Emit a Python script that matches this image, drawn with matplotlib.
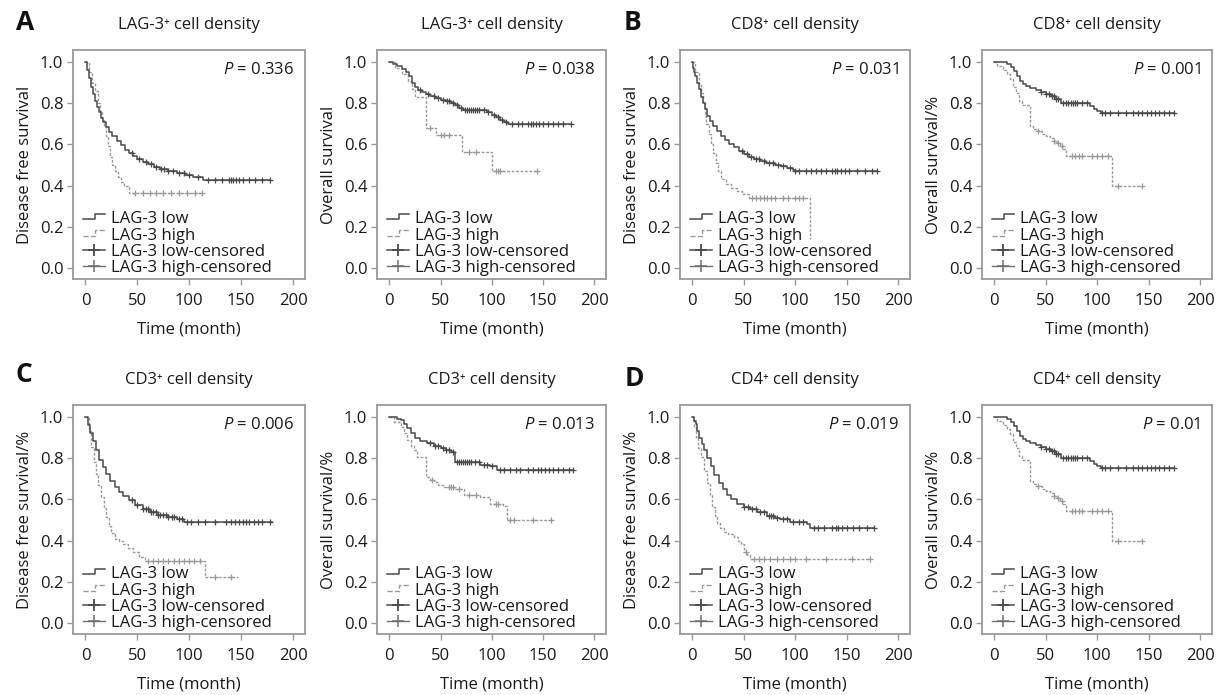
import numpy as np
import matplotlib
matplotlib.use("Agg")
import matplotlib.pyplot as plt
from matplotlib.legend_handler import HandlerBase
from matplotlib.lines import Line2D

plt.rcParams['font.family'] = ['Open Sans', 'DejaVu Sans']
plt.rcParams['mathtext.fontset'] = 'custom'
plt.rcParams['mathtext.it'] = 'Open Sans:italic'
plt.rcParams['mathtext.rm'] = 'Open Sans'

# ---------------- data ----------------
legend_labels = ["LAG-3 low", "LAG-3 high", "LAG-3 low-censored", "LAG-3 high-censored"]
x_ticks = [0, 50, 100, 150, 200]
y_ticks = [0.0, 0.2, 0.4, 0.6, 0.8, 1.0]

# Panel A, DFS (LAG-3+ density)
a_dfs_low_t = [0, 1.5, 3, 5, 7, 9, 11, 13, 15, 17, 20, 23, 26, 30, 34, 38, 42, 46, 50, 55, 60, 66, 72, 80, 88, 96, 104, 113]
a_dfs_low_s = [1.0, 0.96, 0.92, 0.88, 0.845, 0.81, 0.78, 0.755, 0.73, 0.71, 0.685, 0.66, 0.64, 0.615, 0.595, 0.575, 0.56, 0.545, 0.53, 0.515, 0.505, 0.49, 0.48, 0.47, 0.46, 0.45, 0.44, 0.427]
a_dfs_low_end = 178
a_dfs_low_cens = [45, 52, 58, 63, 68, 73, 76, 80, 84, 90, 95, 100, 108, 118, 125, 132, 138, 140, 142, 145, 148, 152, 158, 163, 170, 178]
a_dfs_high_t = [0, 3, 6, 9, 12, 14, 16, 18, 20, 22, 24, 26, 28, 31, 34, 37, 42]
a_dfs_high_s = [1.0, 0.95, 0.90, 0.86, 0.80, 0.76, 0.72, 0.69, 0.64, 0.59, 0.54, 0.50, 0.47, 0.44, 0.42, 0.40, 0.366]
a_dfs_high_end = 112
a_dfs_high_cens = [48, 55, 62, 68, 75, 82, 90, 98, 106, 112]

# Panel A, OS
a_os_low_t = [0, 4, 8, 12, 16, 19, 22, 25, 28, 32, 36, 40, 45, 50, 55, 60, 64, 68, 72, 95, 100, 104, 108, 112, 116]
a_os_low_s = [1.0, 0.99, 0.98, 0.965, 0.95, 0.93, 0.90, 0.88, 0.865, 0.855, 0.845, 0.835, 0.825, 0.815, 0.81, 0.80, 0.79, 0.775, 0.765, 0.755, 0.745, 0.735, 0.72, 0.71, 0.70]
a_os_low_end = 177
a_os_low_cens = [30, 38, 44, 48, 52, 56, 58, 62, 66, 70, 74, 76, 78, 80, 82, 84, 86, 88, 92, 96, 102, 106, 110, 114, 120, 126, 130, 135, 138, 140, 143, 146, 150, 155, 160, 165, 170, 177]
a_os_high_t = [0, 6, 12, 18, 22, 25, 36, 46, 71, 100]
a_os_high_s = [1.0, 0.97, 0.94, 0.91, 0.87, 0.83, 0.68, 0.645, 0.565, 0.47]
a_os_high_end = 144
a_os_high_cens = [40, 50, 53, 58, 78, 85, 104, 106, 108, 144]

# Panel B, DFS (CD8+ density)
b_dfs_low_t = [0, 1, 2, 3, 4.5, 6, 8, 10, 12, 14.5, 17, 20, 24, 28, 32, 36, 40, 45, 50, 55, 60, 66, 72, 80, 86, 92, 98, 100]
b_dfs_low_s = [1.0, 0.97, 0.95, 0.93, 0.90, 0.87, 0.83, 0.80, 0.77, 0.74, 0.715, 0.69, 0.665, 0.64, 0.62, 0.60, 0.585, 0.57, 0.555, 0.54, 0.53, 0.52, 0.51, 0.50, 0.495, 0.485, 0.475, 0.47]
b_dfs_low_end = 179
b_dfs_low_cens = [48, 53, 57, 62, 65, 70, 74, 78, 83, 88, 95, 100, 104, 110, 115, 120, 125, 130, 136, 139, 141, 144, 148, 152, 160, 168, 175, 179]
b_dfs_high_t = [0, 3, 6, 8, 10, 12, 13.5, 16, 18, 20, 22.5, 25, 27.5, 33, 38, 43, 48, 55, 114.5]
b_dfs_high_s = [1.0, 0.95, 0.89, 0.85, 0.80, 0.74, 0.70, 0.65, 0.60, 0.56, 0.51, 0.47, 0.43, 0.41, 0.39, 0.375, 0.36, 0.342, 0.14]
b_dfs_high_end = 114.5
b_dfs_high_cens = [58, 62, 66, 70, 73, 76, 80, 88, 93, 100, 104, 108]

# Panel B, OS
b_os_low_t = [0, 12, 16, 19, 22, 25, 28, 31, 35, 40, 45, 50, 55, 60, 65, 93, 97, 100, 104]
b_os_low_s = [1.0, 0.99, 0.975, 0.955, 0.93, 0.91, 0.895, 0.885, 0.875, 0.865, 0.855, 0.845, 0.835, 0.82, 0.80, 0.785, 0.77, 0.76, 0.75]
b_os_low_end = 175
b_os_low_cens = [45, 50, 53, 56, 58, 60, 62, 67, 70, 72, 74, 76, 78, 80, 85, 90, 105, 108, 112, 120, 128, 135, 140, 143, 148, 152, 156, 160, 165, 170, 175]
b_os_high_t = [0, 3, 8, 12, 15, 18, 21, 24, 27, 35, 38, 42, 46, 50, 54, 58, 61, 64, 67, 70, 114]
b_os_high_s = [1.0, 0.98, 0.96, 0.94, 0.915, 0.88, 0.85, 0.81, 0.79, 0.69, 0.675, 0.665, 0.65, 0.64, 0.63, 0.615, 0.605, 0.59, 0.58, 0.545, 0.40]
b_os_high_end = 143
b_os_high_cens = [42, 58, 62, 66, 75, 78, 82, 85, 95, 100, 105, 110, 120, 143]

# Panel C, DFS (CD3+ density)
c_dfs_low_t = [0, 2, 4, 7, 10, 13.5, 17, 20, 24, 28, 32, 36, 42, 48, 55, 62, 70, 80, 88, 95]
c_dfs_low_s = [1.0, 0.96, 0.92, 0.885, 0.84, 0.79, 0.755, 0.725, 0.69, 0.66, 0.635, 0.615, 0.595, 0.575, 0.555, 0.54, 0.525, 0.515, 0.505, 0.49]
c_dfs_low_end = 180
c_dfs_low_cens = [45, 50, 55, 58, 60, 63, 65, 68, 70, 72, 75, 78, 80, 83, 85, 90, 93, 98, 102, 108, 115, 125, 135, 140, 144, 148, 152, 155, 158, 162, 166, 170, 178]
c_dfs_high_t = [0, 3, 5.5, 8, 10, 12.5, 15, 17.5, 20, 22.5, 25, 28, 32, 36, 41, 46, 52, 57, 115]
c_dfs_high_s = [1.0, 0.93, 0.855, 0.78, 0.725, 0.67, 0.61, 0.56, 0.515, 0.47, 0.435, 0.41, 0.40, 0.385, 0.365, 0.345, 0.32, 0.30, 0.223]
c_dfs_high_end = 147
c_dfs_high_cens = [60, 65, 70, 75, 80, 85, 90, 95, 100, 105, 110, 125, 140]

# Panel C, OS
c_os_low_t = [0, 8, 11, 14, 17.7, 21, 25, 30, 37, 44, 50, 55, 60, 64.5, 89, 98, 105]
c_os_low_s = [1.0, 0.99, 0.985, 0.965, 0.945, 0.92, 0.90, 0.885, 0.875, 0.86, 0.85, 0.84, 0.83, 0.78, 0.765, 0.76, 0.745]
c_os_low_end = 179
c_os_low_cens = [40, 45, 48, 52, 55, 58, 62, 66, 68, 70, 72, 74, 76, 78, 80, 84, 88, 92, 95, 100, 108, 112, 118, 124, 128, 135, 140, 145, 148, 152, 156, 160, 165, 170, 175, 179]
c_os_high_t = [0, 5, 11, 14, 17.7, 21, 24, 27.4, 35.5, 40, 43.5, 48, 53, 63, 72.6, 88.7, 98, 111, 114.5]
c_os_high_s = [1.0, 0.975, 0.95, 0.92, 0.887, 0.86, 0.84, 0.805, 0.71, 0.695, 0.685, 0.67, 0.66, 0.652, 0.62, 0.61, 0.58, 0.57, 0.50]
c_os_high_end = 160
c_os_high_cens = [42, 58, 60, 62, 68, 78, 85, 104, 106, 118, 122, 140, 158]

# Panel D, DFS (CD4+ density)
d_dfs_low_t = [0, 1.5, 3.2, 5, 6.5, 9, 11.3, 14, 17.7, 21, 25.8, 30, 34, 38, 43.5, 50, 56.5, 63, 72.6, 80, 85.5, 95, 111, 114.5]
d_dfs_low_s = [1.0, 0.98, 0.965, 0.93, 0.90, 0.87, 0.84, 0.80, 0.76, 0.72, 0.68, 0.65, 0.62, 0.60, 0.58, 0.565, 0.555, 0.54, 0.52, 0.51, 0.505, 0.49, 0.48, 0.46]
d_dfs_low_end = 177
d_dfs_low_cens = [50, 54, 58, 62, 66, 70, 74, 76, 78, 82, 88, 92, 98, 104, 108, 118, 122, 128, 136, 140, 142, 145, 150, 156, 162, 170, 177]
d_dfs_high_t = [0, 2, 3.2, 5.5, 8, 11, 14.5, 17, 19.4, 22, 24, 27, 30.6, 35, 40, 44, 47, 50, 53, 56.5]
d_dfs_high_s = [1.0, 0.95, 0.90, 0.85, 0.805, 0.74, 0.68, 0.62, 0.565, 0.52, 0.485, 0.46, 0.44, 0.43, 0.42, 0.40, 0.385, 0.345, 0.33, 0.31]
d_dfs_high_end = 173
d_dfs_high_cens = [52, 60, 65, 70, 75, 82, 88, 95, 100, 110, 130, 155, 173]

# Panel D, OS
d_os_low_t = [0, 12, 16, 19, 22, 25, 28, 31, 35, 40, 45, 50, 55, 60, 65, 93, 97, 100, 104]
d_os_low_s = [1.0, 0.99, 0.975, 0.955, 0.93, 0.91, 0.895, 0.885, 0.875, 0.865, 0.855, 0.845, 0.835, 0.82, 0.80, 0.785, 0.77, 0.76, 0.75]
d_os_low_end = 175
d_os_low_cens = [45, 50, 53, 56, 58, 60, 62, 67, 70, 72, 74, 76, 78, 80, 85, 90, 105, 108, 112, 120, 128, 135, 140, 143, 148, 152, 156, 160, 165, 170, 175]
d_os_high_t = [0, 3, 8, 12, 15, 18, 21, 24, 27, 35, 38, 42, 46, 50, 54, 58, 61, 64, 67, 70, 114]
d_os_high_s = [1.0, 0.98, 0.96, 0.94, 0.915, 0.88, 0.85, 0.81, 0.79, 0.69, 0.675, 0.665, 0.65, 0.64, 0.63, 0.615, 0.605, 0.59, 0.58, 0.545, 0.40]
d_os_high_end = 143
d_os_high_cens = [42, 58, 62, 66, 75, 78, 82, 85, 95, 100, 105, 110, 120, 143]

titles = ["LAG-3\u207a cell density", "LAG-3\u207a cell density", "CD8\u207a cell density", "CD8\u207a cell density",
          "CD3\u207a cell density", "CD3\u207a cell density", "CD4\u207a cell density", "CD4\u207a cell density"]
ylabels = ["Disease free survival", "Overall survival", "Disease free survival", "Overall survival/%",
           "Disease free survival/%", "Overall survival/%", "Disease free survival/%", "Overall survival/%"]
p_values = ["0.336", "0.038", "0.031", "0.001", "0.006", "0.013", "0.019", "0.01"]
panel_letters = ["A", "B", "C", "D"]

curves = [
    (a_dfs_low_t, a_dfs_low_s, a_dfs_low_end, a_dfs_low_cens, a_dfs_high_t, a_dfs_high_s, a_dfs_high_end, a_dfs_high_cens),
    (a_os_low_t, a_os_low_s, a_os_low_end, a_os_low_cens, a_os_high_t, a_os_high_s, a_os_high_end, a_os_high_cens),
    (b_dfs_low_t, b_dfs_low_s, b_dfs_low_end, b_dfs_low_cens, b_dfs_high_t, b_dfs_high_s, b_dfs_high_end, b_dfs_high_cens),
    (b_os_low_t, b_os_low_s, b_os_low_end, b_os_low_cens, b_os_high_t, b_os_high_s, b_os_high_end, b_os_high_cens),
    (c_dfs_low_t, c_dfs_low_s, c_dfs_low_end, c_dfs_low_cens, c_dfs_high_t, c_dfs_high_s, c_dfs_high_end, c_dfs_high_cens),
    (c_os_low_t, c_os_low_s, c_os_low_end, c_os_low_cens, c_os_high_t, c_os_high_s, c_os_high_end, c_os_high_cens),
    (d_dfs_low_t, d_dfs_low_s, d_dfs_low_end, d_dfs_low_cens, d_dfs_high_t, d_dfs_high_s, d_dfs_high_end, d_dfs_high_cens),
    (d_os_low_t, d_os_low_s, d_os_low_end, d_os_low_cens, d_os_high_t, d_os_high_s, d_os_high_end, d_os_high_cens),
]

# ---------------- layout ----------------
W, H = 1225, 695
fig = plt.figure(figsize=(W / 100, H / 100), dpi=100)
col_left = [73, 377, 680, 982]
col_width = [232, 229, 230, 230]
row_top = [50, 405]
ax_h = 229

LOW_C = '#4a4a4a'
HIGH_C = '#9a9a9a'
FRAME_C = '#9a9a9a'
TXT_C = '#1a1a1a'
FS = 12


class StepHandler(HandlerBase):
    def create_artists(self, legend, orig_handle, xdescent, ydescent, width, height, fontsize, trans):
        x0 = -xdescent
        y0 = -ydescent
        xs = [x0, x0 + 0.55 * width, x0 + 0.55 * width, x0 + width]
        ys = [y0 + 0.35 * height, y0 + 0.35 * height, y0 + 0.8 * height, y0 + 0.8 * height]
        ln = Line2D(xs, ys, color=orig_handle.get_color(), linestyle=orig_handle.get_linestyle(),
                    linewidth=orig_handle.get_linewidth(), transform=trans)
        return [ln]


def km(ax, t, s, t_end, cens, color, ls, lw):
    t = np.asarray(t, float)
    s = np.asarray(s, float)
    x = np.append(t, t_end)
    y = np.append(s, s[-1])
    ax.step(x, y, where='post', color=color, linestyle=ls, linewidth=lw)
    idx = np.searchsorted(t, np.asarray(cens, float), side='right') - 1
    ax.plot(cens, s[idx], linestyle='none', marker='+', color=color, markersize=4.5, markeredgewidth=0.9)


for i in range(8):
    r, c = divmod(i, 4)
    left = col_left[c]
    w = col_width[c]
    top = row_top[r]
    ax = fig.add_axes([left / W, 1 - (top + ax_h) / H, w / W, ax_h / H])
    lt, ls_, le, lc, ht, hs, he, hc = curves[i]
    km(ax, ht, hs, he, hc, HIGH_C, (0, (2.0, 1.2)), 1.0)
    km(ax, lt, ls_, le, lc, LOW_C, '-', 1.1)

    ax.set_xlim(-12, 211.5)
    ax.set_ylim(-0.053, 1.058)
    ax.set_xticks(x_ticks)
    ax.set_yticks(y_ticks)
    ax.set_yticklabels([f"{v:.1f}" for v in y_ticks])
    for sp in ax.spines.values():
        sp.set_color(FRAME_C)
        sp.set_linewidth(1.3)
    ax.tick_params(axis='both', colors=FRAME_C, labelcolor=TXT_C, labelsize=FS, length=4, width=1.0)
    ax.tick_params(axis='x', pad=6)
    ax.tick_params(axis='y', pad=3)
    ax.set_xlabel("Time (month)", fontsize=FS, color=TXT_C, labelpad=9)
    ax.set_ylabel(ylabels[i], fontsize=FS, color=TXT_C, labelpad=5)

    ax.text(0.5, 1 + 25 / ax_h, titles[i], transform=ax.transAxes, ha='center', va='center',
            fontsize=FS, color=TXT_C)
    ax.text(1 - 11 / w, 1 - 20 / ax_h, "$P$ = " + p_values[i], transform=ax.transAxes,
            ha='right', va='center', fontsize=FS, color=TXT_C)

    h_low = Line2D([], [], color=LOW_C, linestyle='-', linewidth=1.1)
    h_high = Line2D([], [], color=HIGH_C, linestyle=(0, (2.0, 1.2)), linewidth=1.0)
    h_lc = Line2D([], [], color=LOW_C, linestyle='-', linewidth=1.1, marker='+', markersize=8, markeredgewidth=1.3)
    h_hc = Line2D([], [], color='#707070', linestyle='-', linewidth=1.0, marker='+', markersize=8, markeredgewidth=1.1)
    leg = ax.legend([h_low, h_high, h_lc, h_hc], legend_labels, loc='lower left',
                    bbox_to_anchor=(0.045, 0.012), frameon=False, fontsize=FS,
                    labelspacing=0.02, handletextpad=0.35, handlelength=1.3, borderpad=0.0,
                    borderaxespad=0.0, handler_map={h_low: StepHandler(), h_high: StepHandler()})
    for txt in leg.get_texts():
        txt.set_color(TXT_C)

letter_pos = [(25, 22), (633, 22), (24, 374), (634, 379)]
for L, (px, py) in zip(panel_letters, letter_pos):
    fig.text(px / W, 1 - py / H, L, ha='center', va='center', fontsize=19, fontweight='bold', color='#111111')

fig.savefig("out.png", dpi=100)
